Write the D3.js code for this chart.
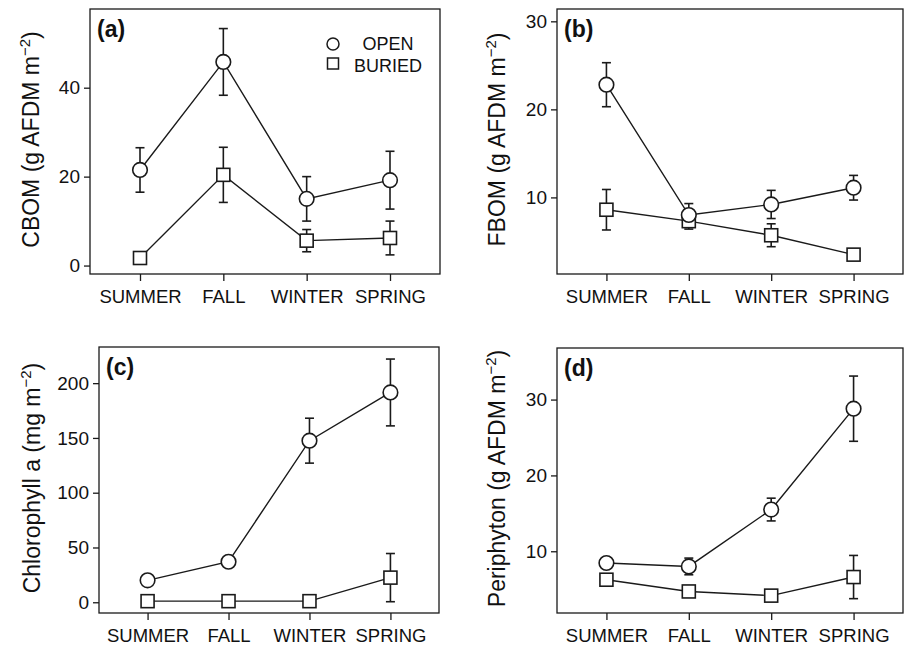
<!DOCTYPE html>
<html>
<head>
<meta charset="utf-8">
<script src="https://cdn.jsdelivr.net/npm/d3@7"></script>
<style>
	body { margin: 0; background: #fff; }
	text { font-family: "Liberation Sans", Arial, sans-serif; fill: #111; }
</style>
</head>
<body>
<div id="chart"></div>
<script>
let width = 904;
let height = 646;

let seasons = ["SUMMER", "FALL", "WINTER", "SPRING"];

// (a) CBOM
let cbomOpen = [21.5, 45.8, 15.0, 19.2];
let cbomOpenErr = [5.0, 7.5, 5.0, 6.5];
let cbomBuried = [1.7, 20.4, 5.6, 6.2];
let cbomBuriedErr = [0.3, 6.2, 2.5, 3.8];
let cbomTicks = [0, 20, 40];

// (b) FBOM
let fbomOpen = [22.8, 8.0, 9.2, 11.1];
let fbomOpenErr = [2.5, 1.3, 1.6, 1.4];
let fbomBuried = [8.6, 7.3, 5.7, 3.5];
let fbomBuriedErr = [2.3, 0.9, 1.3, 0.3];
let fbomTicks = [10, 20, 30];

// (c) Chlorophyll a
let chlOpen = [20, 37, 147.5, 191.5];
let chlOpenErr = [1, 2, 20.5, 30.5];
let chlBuried = [1, 1, 1, 22.5];
let chlBuriedErr = [0.5, 0.5, 0.5, 22];
let chlTicks = [0, 50, 100, 150, 200];

// (d) Periphyton
let periOpen = [8.45, 8.0, 15.5, 28.8];
let periOpenErr = [0.3, 1.1, 1.5, 4.3];
let periBuried = [6.25, 4.7, 4.15, 6.6];
let periBuriedErr = [0.2, 0.2, 0.2, 2.85];
let periTicks = [10, 20, 30];

let panels = [
	{ tag: "(a)", label: "CBOM (g AFDM m", box: [90, 9, 440, 274], domain: [-1.9, 57.7], ticks: cbomTicks,
		open: cbomOpen, openErr: cbomOpenErr, buried: cbomBuried, buriedErr: cbomBuriedErr, labelX: 39, legend: true },
	{ tag: "(b)", label: "FBOM (g AFDM m", box: [557, 9, 903, 274], domain: [1.3, 31.4], ticks: fbomTicks,
		open: fbomOpen, openErr: fbomOpenErr, buried: fbomBuried, buriedErr: fbomBuriedErr, labelX: 505 },
	{ tag: "(c)", label: "Chlorophyll a (mg m", box: [99, 347, 439, 613], domain: [-9.8, 233], ticks: chlTicks,
		open: chlOpen, openErr: chlOpenErr, buried: chlBuried, buriedErr: chlBuriedErr, labelX: 40 },
	{ tag: "(d)", label: "Periphyton (g AFDM m", box: [557, 348, 903, 613], domain: [1.86, 36.8], ticks: periTicks,
		open: periOpen, openErr: periOpenErr, buried: periBuried, buriedErr: periBuriedErr, labelX: 505 }
];

let svg = d3.select("#chart")
	.append("svg")
	.attr("width", width).attr("height", height);

let ink = "#1a1a1a";

panels.forEach(function(p) {
	let [x0, y0, x1, y1] = p.box;
	let x = d3.scalePoint().domain(seasons).range([x0, x1]).padding(0.6);
	let y = d3.scaleLinear().domain(p.domain).range([y1, y0]);
	let g = svg.append("g");

	// frame
	g.append("rect")
		.attr("x", x0).attr("y", y0)
		.attr("width", x1 - x0).attr("height", y1 - y0)
		.attr("fill", "none").attr("stroke", ink).attr("stroke-width", 1.3);

	// axes
	let yAxis = g.append("g").attr("transform", `translate(${x0},0)`)
		.call(d3.axisLeft(y).tickValues(p.ticks).tickSize(6).tickPadding(4));
	let xAxis = g.append("g").attr("transform", `translate(0,${y1})`)
		.call(d3.axisBottom(x).tickSize(7).tickPadding(9));
	[yAxis, xAxis].forEach(a => {
		a.select(".domain").remove();
		a.selectAll("line").attr("stroke", ink).attr("stroke-width", 1.3);
		a.selectAll("text").attr("font-size", 19).attr("font-family", "Liberation Sans, Arial, sans-serif").attr("fill", "#111");
	});
	xAxis.selectAll("text").attr("font-size", 18.5);

	// y label
	let lab = g.append("text")
		.attr("transform", `translate(${p.labelX},${(y0 + y1) / 2 - 2}) rotate(-90)`)
		.attr("text-anchor", "middle")
		.attr("font-size", 23)
		.text(p.label);
	lab.append("tspan").attr("font-size", 15).attr("dy", -9).text("−2");
	lab.append("tspan").attr("dy", 9).text(")");

	// panel tag
	g.append("text").attr("x", x0 + 7).attr("y", y0 + 28)
		.attr("font-size", 23).attr("font-weight", "bold").text(p.tag);

	let series = [
		{ vals: p.buried, errs: p.buriedErr, shape: "square" },
		{ vals: p.open, errs: p.openErr, shape: "circle" }
	];

	series.forEach(function(s) {
		let pts = seasons.map((d, i) => ({ season: d, v: s.vals[i], e: s.errs[i] }));
		let eb = g.append("g").selectAll("g").data(pts).join("g");
		eb.append("line")
			.attr("x1", d => x(d.season)).attr("x2", d => x(d.season))
			.attr("y1", d => y(d.v - d.e)).attr("y2", d => y(d.v + d.e))
			.attr("stroke", ink).attr("stroke-width", 1.6);
		[-1, 1].forEach(sg => {
			eb.append("line")
				.attr("x1", d => x(d.season) - 4.5).attr("x2", d => x(d.season) + 4.5)
				.attr("y1", d => y(d.v + sg * d.e)).attr("y2", d => y(d.v + sg * d.e))
				.attr("stroke", ink).attr("stroke-width", 1.6);
		});

		g.append("path").datum(pts)
			.attr("fill", "none").attr("stroke", ink).attr("stroke-width", 1.4)
			.attr("d", d3.line().x(d => x(d.season)).y(d => y(d.v)));
	});

	series.forEach(function(s) {
		let pts = seasons.map((d, i) => ({ season: d, v: s.vals[i] }));
		if (s.shape == "circle") {
			g.append("g").selectAll("circle").data(pts).join("circle")
				.attr("cx", d => x(d.season)).attr("cy", d => y(d.v)).attr("r", 7.3)
				.attr("fill", "#fff").attr("stroke", ink).attr("stroke-width", 1.6);
		} else {
			g.append("g").selectAll("rect").data(pts).join("rect")
				.attr("x", d => x(d.season) - 6.5).attr("y", d => y(d.v) - 6.5)
				.attr("width", 13).attr("height", 13)
				.attr("fill", "#fff").attr("stroke", ink).attr("stroke-width", 1.6);
		}
	});

	if (p.legend) {
		let lg = g.append("g");
		lg.append("circle").attr("cx", 333).attr("cy", 44).attr("r", 6)
			.attr("fill", "#fff").attr("stroke", ink).attr("stroke-width", 1.5);
		lg.append("rect").attr("x", 327.5).attr("y", 58).attr("width", 11).attr("height", 11)
			.attr("fill", "#fff").attr("stroke", ink).attr("stroke-width", 1.5);
		lg.append("text").attr("x", 388).attr("y", 50).attr("text-anchor", "middle")
			.attr("font-size", 18).text("OPEN");
		lg.append("text").attr("x", 388).attr("y", 72).attr("text-anchor", "middle")
			.attr("font-size", 18).text("BURIED");
	}
});
</script>
</body>
</html>
